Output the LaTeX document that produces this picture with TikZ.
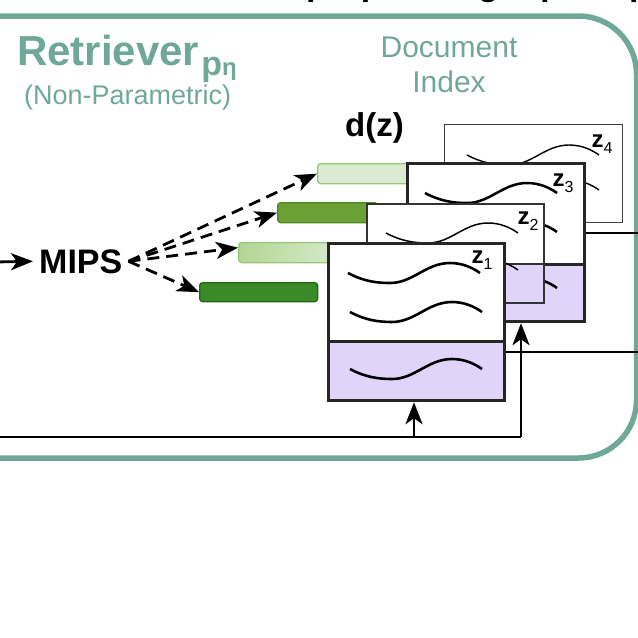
\documentclass[tikz,border=0pt]{standalone}
\usepackage{fontspec}
\setmainfont{Liberation Sans}
\usetikzlibrary{arrows.meta}
\definecolor{tealc}{RGB}{111,168,153}
\definecolor{purp}{RGB}{224,212,250}
\definecolor{dkgreen}{RGB}{58,138,40}
\definecolor{dkgreenb}{RGB}{30,100,20}
\definecolor{mdgreen}{RGB}{106,160,52}
\definecolor{mdgreenb}{RGB}{80,135,35}
\definecolor{ltgreenL}{RGB}{178,214,148}
\definecolor{ltgreenR}{RGB}{216,234,206}
\definecolor{ltgreenb}{RGB}{150,200,120}
\definecolor{palegreen}{RGB}{219,235,211}
\newcommand\zsub[1]{\raisebox{-6pt}{\fontsize{16}{16}\selectfont\mdseries #1}}
\tikzset{
  fsz/.style={font=\fontsize{#1}{#1}\selectfont},
  bar/.style={rounded corners=3pt, inner sep=0pt, minimum height=20pt, line width=1.3pt, anchor=north west},
  dbox/.style={fill=white, inner sep=0pt, anchor=north west},
  thickbox/.style={dbox, draw=black!85, line width=3.2pt},
  thinbox/.style={dbox, draw=black!80, line width=1.7pt},
  zlab/.style={font=\fontsize{24}{24}\selectfont\bfseries, inner sep=0pt},
  arr/.style={-{Stealth[length=22pt,width=17pt,inset=6pt]}, line width=2.8pt},
  dasharr/.style={arr, dash pattern=on 12pt off 7pt, line width=2.8pt},
  docwave/.pic={\draw (0,0) .. controls (15,8) and (28,10) .. (42,10)
      .. controls (65,10) and (78,-10) .. (102,-10)
      .. controls (115,-10) and (125,-5) .. (132,0);}
}
\begin{document}
\begin{tikzpicture}[x=1pt,y=-1pt]
\useasboundingbox (0,0) rectangle (638,638);
\clip (0,0) rectangle (638,638);
% outer frame
\draw[tealc, line width=5.5pt, rounded corners=58pt] (-80,16) rectangle (636.5,458);
% cut-off title above
\node[anchor=base west, inner sep=0pt, font=\fontsize{34}{34}\selectfont\bfseries] (bp) at (32,-5) {End-to-End Backprop through q and pθ};
% titles
\node[anchor=base west, inner sep=0pt, text=tealc, font=\fontsize{42}{42}\selectfont\bfseries] (ret) at (17,65)
  {Retriever\hspace{2pt}\raisebox{-10pt}{\fontsize{34}{34}\selectfont p\fontsize{24}{24}\selectfont η}};
\node[anchor=base west, inner sep=0pt, text=tealc, fsz=27] (np) at (24,104) {(Non-Parametric)};
\node[anchor=base, inner sep=0pt, text=tealc, fsz=30] (doc1) at (449,57) {Document};
\node[anchor=base, inner sep=0pt, text=tealc, fsz=30] (doc2) at (449,92) {Index};
\node[anchor=base west, inner sep=0pt, font=\fontsize{33}{33}\selectfont\bfseries] (dz) at (345,136) {d(z)};
\node[anchor=base west, inner xsep=6pt, inner ysep=0pt, font=\fontsize{34}{34}\selectfont\bfseries] (mips) at (33,273) {MIPS};
% embedding bars
\node[bar, draw=ltgreenb, fill=palegreen, minimum width=100pt] (b4) at (317,163) {};
\node[bar, draw=mdgreenb, fill=mdgreen, minimum width=100pt] (b3) at (277,202) {};
\node[bar, draw=ltgreenb, left color=ltgreenL, right color=ltgreenR, minimum width=100pt] (b2) at (238,242) {};
\node[bar, draw=dkgreenb, fill=dkgreen, minimum width=118pt, minimum height=19pt] (b1) at (199,282) {};
% document z4
\node[thinbox, draw=black!75, line width=1.4pt, minimum width=178pt, minimum height=98pt] (z4) at (444,124) {};
\pic[line width=1.4pt] at (467,155) {docwave};
\pic[line width=1.4pt] at (467,190) {docwave};
\node[zlab] (l4) at (602,144) {z\zsub{4}};
% document z3
\node[thickbox, minimum width=177pt, minimum height=101pt] (z3) at (406,162) {};
\node[thickbox, fill=purp, minimum width=177pt, minimum height=57pt] (z3e) at (406,263) {};
\pic[line width=2.5pt] at (425,193) {docwave};
\pic[line width=2.5pt] at (425,232) {docwave};
\pic[line width=2.5pt] at (425,288) {docwave};
\node[zlab] (l3) at (563,183) {z\zsub{3}};
% document z2
\node[thinbox, minimum width=177pt, minimum height=60pt] (z2) at (366,203) {};
\node[thinbox, fill=purp, minimum width=177pt, minimum height=39pt] (z2e) at (366,263) {};
\pic[line width=1.5pt] at (386,233) {docwave};
\pic[line width=1.5pt] at (386,270) {docwave};
\node[zlab] (l2) at (528,221) {z\zsub{2}};
% document z1
\node[thickbox, minimum width=176pt, minimum height=98pt] (z1) at (327,242) {};
\node[thickbox, fill=purp, minimum width=176pt, minimum height=59pt] (z1e) at (327,340) {};
\pic[line width=2.6pt] at (348,273) {docwave};
\pic[line width=2.6pt] at (350,312) {docwave};
\pic[line width=2.6pt] at (350,369) {docwave};
\node[zlab] (l1) at (482,260) {z\zsub{1}};
% arrows
\coordinate (inL) at (-5,262);
\draw[arr] (inL) -- (mips.west);
\draw[dasharr] (mips.east) -- (b4.west);
\draw[dasharr] (mips.east) -- (b3.west);
\draw[dasharr] (mips.east) -- ([yshift=5pt]b2.west);
\draw[dasharr] (mips.east) -- (b1.west);
% bottom feedback lines
\coordinate (jL) at (-5,437);
\coordinate (j1) at (414,437);
\coordinate (j3) at (521,437);
\draw[line width=2.8pt] (jL) -- (j3);
\draw[arr] (j3) -- (z3e.south -| j3);
\draw[arr] (j1) -- (z1e.south -| j1);
% right outgoing lines
\coordinate (r1) at (645,352);
\coordinate (r3) at (645,233);
\draw[line width=2.8pt] (z1e.east |- r1) -- (r1);
\draw[line width=2.8pt] (z3.east |- r3) -- (r3);
\end{tikzpicture}
\end{document}
